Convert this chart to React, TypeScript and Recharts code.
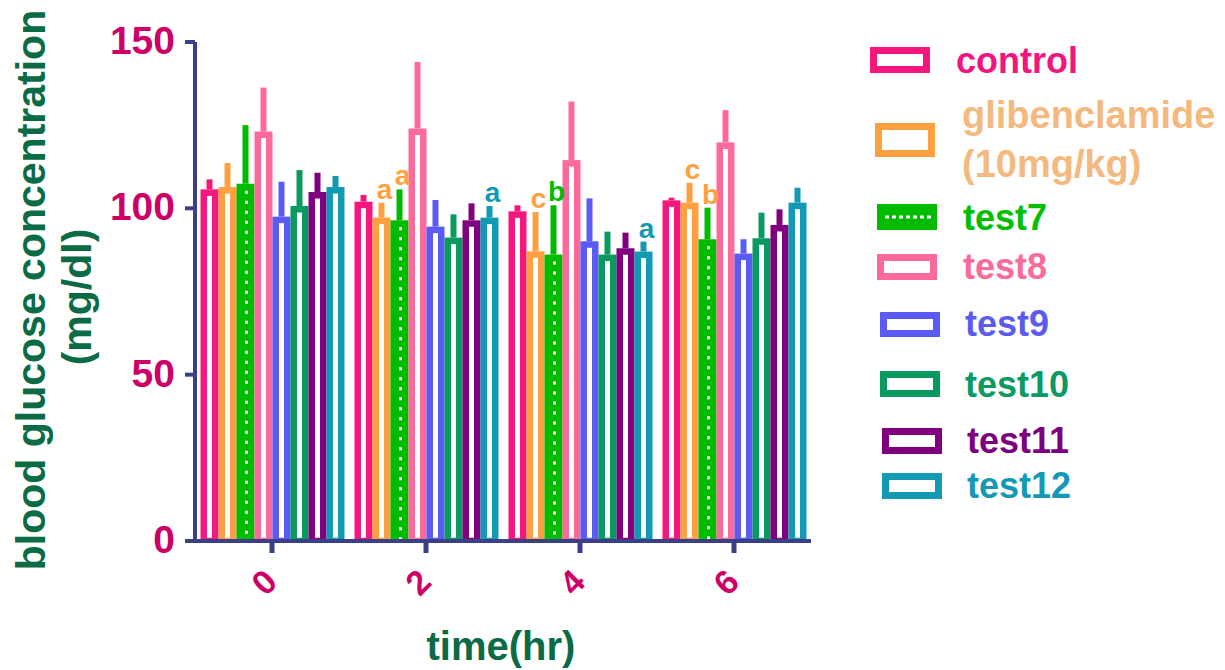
import { BarChart, Bar, XAxis, YAxis, ErrorBar, LabelList, Label } from "recharts";

const hours = ["0", "2", "4", "6"];

// bar heights (mg/dl)
const control = [105.7, 102.0, 99.1, 102.4];
const glib = [106.4, 97.2, 87.1, 101.7];
const test7 = [107.4, 96.4, 86.1, 90.7];
const test8 = [123.1, 124.0, 114.5, 119.8];
const test9 = [97.5, 94.5, 90.1, 86.4];
const test10 = [100.7, 91.2, 86.1, 91.0];
const test11 = [104.9, 96.4, 88.0, 95.0];
const test12 = [106.4, 97.2, 87.0, 101.7];

// upward error (SEM) above each bar
const controlErr = [3.0, 2.0, 1.8, 0.8];
const glibErr = [7.2, 4.5, 11.8, 6.0];
const test7Err = [17.6, 9.3, 14.8, 9.5];
const test8Err = [13.2, 20.0, 17.6, 9.7];
const test9Err = [10.5, 8.0, 12.9, 4.3];
const test10Err = [10.8, 7.0, 6.9, 7.7];
const test11Err = [5.8, 5.1, 4.7, 4.7];
const test12Err = [3.3, 3.5, 3.0, 4.5];

// significance letters
const glibMarks = ["", "a", "c", "c"];
const test7Marks = ["", "a", "b", "b"];
const test12Marks = ["", "a", "a", ""];
const glibMarkColors = ["", "#FFA040", "#FFA040", "#FFA040"];
const test7MarkColors = ["", "#FFA040", "#00BB00", "#FFA040"];
const test12MarkColors = ["", "#1299B3", "#1299B3", ""];

const font = "'Liberation Sans', Arial, sans-serif";
const axisColor = "#3B3F88";

const series = [
  { key: "control", name: "control", values: control, errors: controlErr, color: "#F5167E", text: "#F0157F" },
  { key: "glib", name: "glibenclamide\n(10mg/kg)", values: glib, errors: glibErr, color: "#FFA040", text: "#F4B97F", marks: glibMarks, markColors: glibMarkColors },
  { key: "test7", name: "test7", values: test7, errors: test7Err, color: "#00BB00", text: "#00C000", dotted: true, marks: test7Marks, markColors: test7MarkColors },
  { key: "test8", name: "test8", values: test8, errors: test8Err, color: "#FC6A9A", text: "#FA6B9A" },
  { key: "test9", name: "test9", values: test9, errors: test9Err, color: "#5A5AF5", text: "#5B5BF0" },
  { key: "test10", name: "test10", values: test10, errors: test10Err, color: "#0A9A5F", text: "#0B9A62" },
  { key: "test11", name: "test11", values: test11, errors: test11Err, color: "#800080", text: "#7E007E" },
  { key: "test12", name: "test12", values: test12, errors: test12Err, color: "#1299B3", text: "#1398B5", marks: test12Marks, markColors: test12MarkColors },
];

const data = hours.map((h, i) => {
  const row: any = { time: h };
  series.forEach((s) => {
    row[s.key] = s.values[i];
    row[s.key + "Err"] = [0, s.errors[i]];
  });
  return row;
});

const hollowBar = (props: any, color: string) => {
  const { x, y, width, height } = props;
  if (!height) return null;
  const s = 6.5;
  return (
    <rect
      x={x + s / 2}
      y={y + s / 2}
      width={Math.max(width - s, 0)}
      height={Math.max(height - s / 2, 0)}
      fill="#fff"
      stroke={color}
      strokeWidth={s}
    />
  );
};

const dottedBar = (props: any, color: string) => {
  const { x, y, width, height } = props;
  if (!height) return null;
  const cx = x + width / 2 + 1;
  return (
    <g>
      <rect x={x} y={y} width={width} height={height} fill={color} />
      <line x1={cx} x2={cx} y1={y + 7} y2={y + height} stroke="#fff" strokeWidth={3} strokeDasharray="3 7" />
    </g>
  );
};

const markContent = (marks: string[], colors: string[], errors: number[]) => (props: any) => {
  const vb = props.viewBox || props;
  const { x, y, width } = vb;
  const height = Math.abs(vb.height);
  const index = props.index;
  const text = marks[index];
  if (!text) return null;
  const value = Number(props.value) || 1;
  const top = y - errors[index] * (height / value);
  return (
    <text x={x + width / 2 + 3} y={top - 4} textAnchor="middle" fontSize={28} fontWeight="bold" fill={colors[index]} fontFamily={font}>
      {text}
    </text>
  );
};

const YTick = ({ x, y, payload }: any) => (
  <text x={x} y={y + 12} textAnchor="end" fontSize={39} fontWeight="bold" fill="#CC0066" fontFamily={font}>
    {payload.value}
  </text>
);

const XTick = ({ x, y, payload }: any) => (
  <text
    x={0}
    y={0}
    transform={`translate(${x - 8},${y + 29}) rotate(-45)`}
    textAnchor="middle"
    dominantBaseline="central"
    fontSize={34}
    fontWeight="bold"
    fill="#CC0066"
    fontFamily={font}
  >
    {payload.value}
  </text>
);

const legendLayout = [
  { box: [870, 47, 60, 26], tx: 956, lines: [73], size: 36 },
  { box: [875, 123, 60, 34], tx: 962, lines: [128, 177], size: 38 },
  { box: [877, 204, 60, 26], tx: 963, lines: [230], size: 36 },
  { box: [877, 254, 60, 26], tx: 963, lines: [279], size: 36 },
  { box: [880, 312, 60, 25], tx: 965, lines: [336], size: 36 },
  { box: [880, 371, 60, 26], tx: 965, lines: [397], size: 36 },
  { box: [882, 428, 60, 26], tx: 967, lines: [453], size: 36 },
  { box: [882, 473, 60, 26], tx: 967, lines: [498], size: 36 },
];

function LegendPanel() {
  const sw = 7;
  return (
    <svg width={1225} height={670} style={{ position: "absolute", left: 0, top: 0, pointerEvents: "none" }}>
      {series.map((s, i) => {
        const l = legendLayout[i];
        const [bx, by, bw, bh] = l.box;
        const parts = s.name.split("\n");
        return (
          <g key={s.key}>
            {s.dotted ? (
              <g>
                <rect x={bx} y={by} width={bw} height={bh} fill={s.color} />
                <line x1={bx + 8} x2={bx + bw - 6} y1={by + bh / 2} y2={by + bh / 2} stroke="#fff" strokeWidth={3} strokeDasharray="4 3" />
              </g>
            ) : (
              <rect x={bx + sw / 2} y={by + sw / 2} width={bw - sw} height={bh - sw} fill="#fff" stroke={s.color} strokeWidth={sw} />
            )}
            {parts.map((p, j) => (
              <text key={j} x={l.tx} y={l.lines[j]} fontSize={l.size} fontWeight="bold" fill={s.text} fontFamily={font}>
                {p}
              </text>
            ))}
          </g>
        );
      })}
    </svg>
  );
}

export default function App() {
  return (
    <div style={{ position: "absolute", left: 0, top: 0, width: 1225, height: 670, background: "#fff", fontFamily: font }}>
      <BarChart
        width={1225}
        height={670}
        data={data}
        margin={{ top: 42, right: 414, bottom: 0, left: 0 }}
        barCategoryGap={5.5}
        barGap={0}
      >
        <XAxis
          dataKey="time"
          height={129}
          axisLine={{ stroke: axisColor, strokeWidth: 4 }}
          tickLine={{ stroke: axisColor, strokeWidth: 5 }}
          tickSize={12}
          tickMargin={0}
          tick={<XTick />}
          interval={0}
        >
          <Label
            content={() => (
              <text x={501} y={660} textAnchor="middle" fontSize={40} fontWeight="bold" fill="#0B6B45" fontFamily={font}>
                time(hr)
              </text>
            )}
          />
        </XAxis>
        <YAxis
          width={195}
          domain={[0, 150]}
          ticks={[0, 50, 100, 150]}
          axisLine={{ stroke: axisColor, strokeWidth: 4 }}
          tickLine={{ stroke: axisColor, strokeWidth: 4 }}
          tickSize={10}
          tickMargin={10}
          tick={<YTick />}
          allowDataOverflow
        >
          <Label
            content={() => (
              <g fontFamily={font} fontWeight="bold" fill="#0B6B45" fontSize={41}>
                <text transform="translate(45,290) rotate(-90)" textAnchor="middle">
                  blood glucose concentration
                </text>
                <text transform="translate(91,297) rotate(-90)" textAnchor="middle">
                  (mg/dl)
                </text>
              </g>
            )}
          />
        </YAxis>
        {series.map((s) => (
          <Bar
            key={s.key}
            dataKey={s.key}
            fill={s.color}
            stroke={s.color}
            isAnimationActive={false}
            shape={(p: any) => (s.dotted ? dottedBar(p, s.color) : hollowBar(p, s.color))}
          >
            <ErrorBar
              dataKey={s.key + "Err"}
              width={0}
              strokeWidth={6}
              stroke={s.color}
              direction="y"
              isAnimationActive={false}
            />
            {s.marks && (
              <LabelList dataKey={s.key} content={markContent(s.marks, s.markColors!, s.errors)} />
            )}
          </Bar>
        ))}
      </BarChart>
      <LegendPanel />
    </div>
  );
}
